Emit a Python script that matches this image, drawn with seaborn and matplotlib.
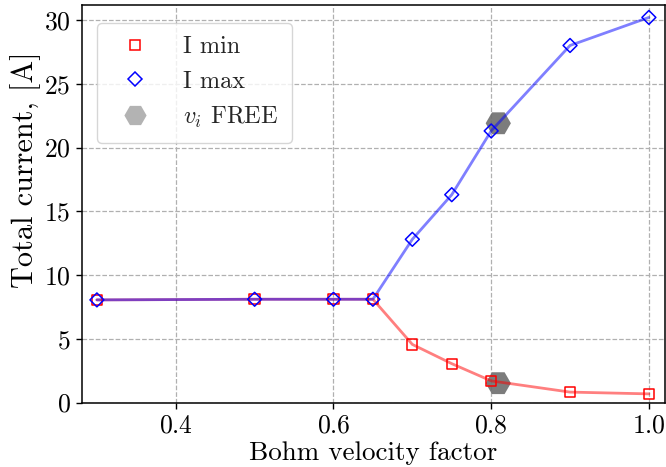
import numpy as np
import pandas as pd
import seaborn as sns
import matplotlib.pyplot as plt
from matplotlib.lines import Line2D

# =====================================================
# DATA
# =====================================================
bohm_factor = [0.3, 0.5, 0.6, 0.65, 0.7, 0.75, 0.8, 0.9, 1.0]
i_min = [8.05, 8.1, 8.1, 8.1, 4.56, 3.05, 1.70, 0.82, 0.68]
i_max = [8.05, 8.1, 8.1, 8.1, 12.8, 16.3, 21.3, 28.0, 30.2]

free_factor = [0.809, 0.809]
free_current = [21.9, 1.52]

df = pd.DataFrame({"bohm": bohm_factor, "imin": i_min, "imax": i_max})
df_free = pd.DataFrame({"bohm": free_factor, "current": free_current})

# =====================================================
# STYLE
# =====================================================
sns.set_style("ticks")
plt.rcParams["font.family"] = "serif"
plt.rcParams["font.serif"] = ["cmr10"]
plt.rcParams["mathtext.fontset"] = "cm"
plt.rcParams["axes.formatter.use_mathtext"] = True

fig, ax = plt.subplots(figsize=(6.66, 4.67), dpi=100)
fig.subplots_adjust(left=0.123, right=0.998, top=0.99, bottom=0.138)

# =====================================================
# PLOT
# =====================================================
sns.lineplot(data=df, x="bohm", y="imin", color="red", alpha=0.5, lw=2, ax=ax, zorder=2)
sns.lineplot(data=df, x="bohm", y="imax", color="blue", alpha=0.5, lw=2, ax=ax, zorder=2)

sns.scatterplot(data=df_free, x="bohm", y="current", marker="H", s=330,
                color="#6e6e6e", alpha=0.9, edgecolor="none", ax=ax, zorder=1)
sns.scatterplot(data=df, x="bohm", y="imin", marker="s", s=55, facecolor="none",
                edgecolor="red", linewidth=1.1, ax=ax, zorder=3)
sns.scatterplot(data=df, x="bohm", y="imax", marker="D", s=50, facecolor="none",
                edgecolor="blue", linewidth=1.1, ax=ax, zorder=4)

ax.set_xlim(0.281, 1.02)
ax.set_ylim(0, 31.2)
ax.set_xticks([0.4, 0.6, 0.8, 1.0])
ax.set_yticks([0, 5, 10, 15, 20, 25, 30])
ax.grid(True, linestyle="--", color="#b0b0b0", linewidth=0.9)
ax.tick_params(labelsize=18.5, direction="out", length=4.5, width=1, color="black",
               labelcolor="black")
ax.set_xlabel("Bohm velocity factor", fontsize=19.5, color="black", labelpad=3)
ax.set_ylabel("Total current, [A]", fontsize=21.8, color="black")
ax.yaxis.set_label_coords(-0.07, 0.585)
for sp in ax.spines.values():
    sp.set_linewidth(1.1)
    sp.set_color("black")

handles = [
    Line2D([], [], ls="none", marker="s", ms=7.5, mfc="none", mec="red", mew=1.1),
    Line2D([], [], ls="none", marker="D", ms=7, mfc="none", mec="blue", mew=1.1),
    Line2D([], [], ls="none", marker="H", ms=16, mfc="#b3b3b3", mec="none"),
]
ax.legend(handles, ["I min", "I max", "$v_i$ FREE"], loc="upper left",
          fontsize=17.5, framealpha=0.8, borderpad=0.55, labelspacing=0.5,
          handlelength=2.0, handletextpad=1.0, bbox_to_anchor=(0.005, 0.985))

fig.savefig("out.png", dpi=100)
